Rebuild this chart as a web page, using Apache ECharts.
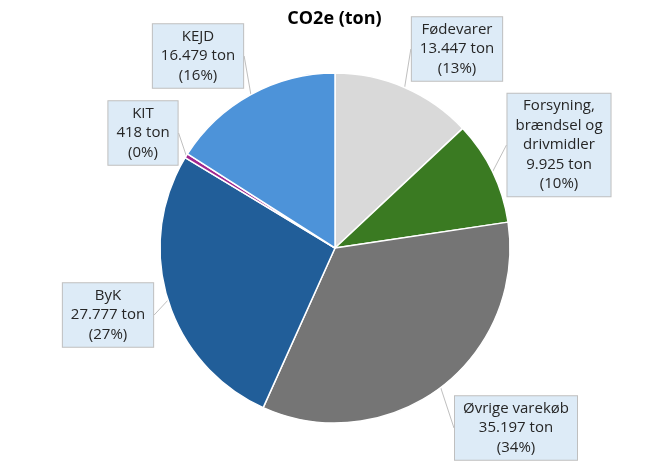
<!DOCTYPE html>
<html>
<head>
<meta charset="utf-8">
<script src="https://cdn.jsdelivr.net/npm/echarts@6/dist/echarts.min.js"></script>
<style>
html,body{margin:0;padding:0;background:#fff;}
#c{width:669px;height:466px;}
</style>
</head>
<body>
<div id="c"></div>
<script>
const categories = ['Fødevarer', 'Forsyning,\nbrændsel og\ndrivmidler', 'Øvrige varekøb', 'ByK', 'KIT', 'KEJD'];
const values = [13447, 9925, 35197, 27777, 418, 16479];
const colors = ['#d9d9d9', '#3a7a22', '#757575', '#215e99', '#a0278f', '#4d93d9'];
const titleText = 'CO2e (ton)';
const unit = 'ton';

const labelCenters = [[457, 49], [559, 145], [516, 428], [108, 315], [143, 133], [198, 56]];

function fmt(n) {
  return String(n).replace(/\B(?=(\d{3})+(?!\d))/g, '.');
}

const chart = echarts.init(document.getElementById('c'));
chart.setOption({
  animation: false,
  backgroundColor: '#fff',
  title: {
    text: titleText,
    left: 'center',
    top: 5,
    textStyle: { fontFamily: 'Open Sans', fontSize: 18, fontWeight: 'bold', color: '#000' }
  },
  series: [{
    type: 'pie',
    center: [335, 248],
    radius: 175,
    startAngle: 90,
    clockwise: true,
    percentPrecision: 0,
    avoidLabelOverlap: false,
    data: categories.map((c, i) => ({ name: c, value: values[i], itemStyle: { color: colors[i] } })),
    itemStyle: { borderColor: '#fff', borderWidth: 1.5 },
    label: {
      show: true,
      position: 'outside',
      formatter: p => p.name + '\n' + fmt(p.value) + ' ' + unit + '\n(' + p.percent + '%)',
      fontFamily: 'Open Sans',
      fontSize: 15,
      lineHeight: 19.5,
      color: '#262626',
      align: 'center',
      backgroundColor: '#ddebf7',
      borderColor: '#bfbfbf',
      borderWidth: 1,
      padding: [3, 8, 2, 8]
    },
    labelLine: {
      show: true,
      length: 6,
      length2: 0,
      smooth: false,
      lineStyle: { color: '#bfbfbf', width: 1 }
    },
    labelLayout: function (params) {
      const p = labelCenters[params.dataIndex];
      return { x: p[0], y: p[1], align: 'center', verticalAlign: 'middle' };
    },
    emphasis: { disabled: true }
  }]
});
</script>
</body>
</html>
